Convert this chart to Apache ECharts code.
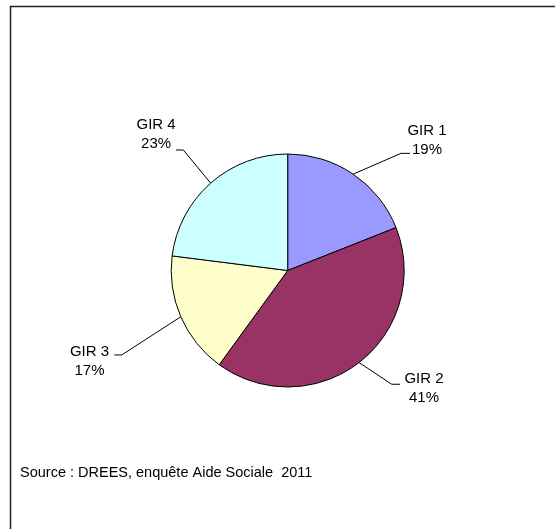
<!DOCTYPE html>
<html><head><meta charset="utf-8">
<script src="https://cdn.jsdelivr.net/npm/echarts@6/dist/echarts.min.js"></script>
<style>html,body{margin:0;padding:0;background:#fff}#c{width:555px;height:529px}</style>
</head><body><div id="c"></div>
<script>
const categories = ['GIR 1', 'GIR 2', 'GIR 3', 'GIR 4'];
const values = [19, 41, 17, 23];
const colors = ['#9999FF', '#993366', '#FFFFCC', '#CCFFFF'];
const sourceText = 'Source : DREES, enquête Aide Sociale  2011';

// leader-line geometry relative to the leader start on the pie edge
// [elbowDx, elbowDy, endDx, labelDx, labelDy]
const leaderOffsets = [
  [47.8, -20.8, 56.8, 73.8, -33.6],
  [32.6, 21.7, 40.9, 64.9, 25.9],
  [-59.1, 38.2, -66.5, -91.3, 44.6],
  [-27.3, -33.1, -34.6, -54.6, -48.4]
];

const chart = echarts.init(document.getElementById('c'));
chart.setOption({
  backgroundColor: '#fff',
  animation: false,
  graphic: [
    { type: 'rect', shape: { x: 10.5, y: 6.5, width: 700, height: 700 },
      style: { fill: 'none', stroke: '#222', lineWidth: 1.5 }, silent: true },
    { type: 'text', left: 20, top: 465,
      style: { text: sourceText, font: '14.5px "Liberation Sans", Arial, sans-serif', fill: '#000' } }
  ],
  series: [{
    type: 'pie',
    center: [287.7, 270.5],
    radius: 116.5,
    startAngle: 90,
    clockwise: true,
    percentPrecision: 0,
    data: categories.map((c, i) => ({ name: c, value: values[i], itemStyle: { color: colors[i] } })),
    itemStyle: { borderColor: '#000', borderWidth: 1 },
    emphasis: { disabled: true },
    label: {
      show: true, position: 'outside',
      formatter: '{b}\n{d}%',
      color: '#000', fontSize: 15, lineHeight: 19,
      fontFamily: '"Liberation Sans", Arial, sans-serif',
      align: 'center'
    },
    labelLine: { show: true, length: 20, length2: 10, lineStyle: { color: '#000', width: 1 } },
    labelLayout: function (p) {
      const o = leaderOffsets[p.dataIndex];
      const s = p.labelLinePoints[0];
      return {
        x: s[0] + o[3], y: s[1] + o[4],
        align: 'center', verticalAlign: 'middle',
        labelLinePoints: [[s[0], s[1]], [s[0] + o[0], s[1] + o[1]], [s[0] + o[2], s[1] + o[1]]]
      };
    }
  }]
});
</script></body></html>
